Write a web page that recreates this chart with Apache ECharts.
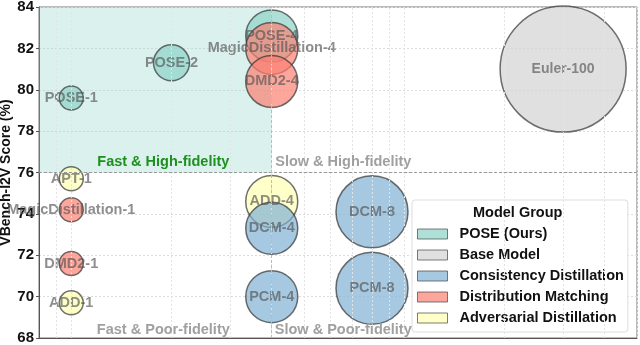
<!DOCTYPE html>
<html>
<head>
<meta charset="utf-8">
<script src="https://cdn.jsdelivr.net/npm/echarts@6/dist/echarts.min.js"></script>
<style>
  html, body { margin: 0; padding: 0; background: #fff; }
  #chart { width: 640px; height: 345px; }
</style>
</head>
<body>
<div id="chart"></div>
<script>
// each point: [x (log axis), VBench-I2V score, NFE, name]
var poseOurs = [[1, 79.6, 1, 'POSE-1'], [2, 81.3, 2, 'POSE-2'], [4, 82.6, 4, 'POSE-4']];
var baseModel = [[30, 81.0, 100, 'Euler-100']];
var consistencyDist = [[4, 73.3, 4, 'DCM-4'], [4, 70.0, 4, 'PCM-4'], [8, 74.1, 8, 'DCM-8'], [8, 70.4, 8, 'PCM-8']];
var distMatching = [[4, 82.0, 4, 'MagicDistillation-4'], [4, 80.4, 4, 'DMD2-4'], [1, 74.2, 1, 'MagicDistillation-1'], [1, 71.6, 1, 'DMD2-1']];
var adversarialDist = [[1, 75.7, 1, 'APT-1'], [4, 74.6, 4, 'ADD-4'], [1, 69.7, 1, 'ADD-1']];

var groupNames = ['POSE (Ours)', 'Base Model', 'Consistency Distillation', 'Distribution Matching', 'Adversarial Distillation'];
var yTicks = [68, 70, 72, 74, 76, 78, 80, 82, 84];
var xGrid = [0.9, 1, 2, 3, 4, 5, 6, 7, 8, 9, 10, 20, 30, 40, 50];
var quadrantLabels = ['Fast & High-fidelity', 'Slow & High-fidelity', 'Fast & Poor-fidelity', 'Slow & Poor-fidelity'];

var FONT = '"Liberation Sans", Arial, sans-serif';
// bubble diameter by NFE
var bubbleDiameter = {1: 24, 2: 36, 4: 52, 8: 72, 100: 126};

function bubbles(name, data, color, fontSize) {
  return {
    name: name,
    type: 'scatter',
    data: data,
    z: 2,
    symbolSize: function (d) { return bubbleDiameter[d[2]]; },
    itemStyle: { color: color, opacity: 0.7, borderColor: '#333', borderWidth: 1.5 },
    label: {
      show: true,
      position: 'inside',
      formatter: function (p) { return p.data[3]; },
      color: 'rgba(85,85,85,0.95)',
      fontFamily: FONT,
      fontWeight: 'bold',
      fontSize: fontSize || 14.5
    },
    emphasis: { disabled: true }
  };
}

var chart = echarts.init(document.getElementById('chart'));

var labelFont = { fontFamily: FONT, fontWeight: 'bold', fontSize: 14.5 };

var option = {
  animation: false,
  grid: { left: 39, right: 3, top: 7, bottom: 7, show: true, borderColor: '#777', borderWidth: 1,
    outerBoundsMode: 'none', containLabel: false },
  xAxis: {
    type: 'log',
    min: 0.8,
    max: 50,
    axisLabel: { show: false },
    axisTick: { show: false },
    splitLine: { show: false },
    axisLine: { lineStyle: { color: '#555' } }
  },
  yAxis: {
    type: 'value',
    min: 68,
    max: 84,
    interval: 2,
    name: 'VBench-I2V Score (%)',
    nameLocation: 'middle',
    nameGap: 26,
    nameMoveOverlap: false,
    nameTextStyle: { color: '#111', fontFamily: FONT, fontWeight: 'bold', fontSize: 14 },
    axisLabel: { color: '#111', fontFamily: FONT, fontWeight: 'bold', fontSize: 15, margin: 5,
      formatter: function (v) { return yTicks.indexOf(v) >= 0 ? v : ''; } },
    axisTick: { show: true, length: 3, lineStyle: { color: '#555' } },
    axisLine: { show: true, lineStyle: { color: '#555' } },
    splitLine: { lineStyle: { color: '#ddd', type: [2, 2] } }
  },
  legend: {
    data: groupNames,
    orient: 'vertical',
    left: 412,
    top: 200,
    padding: [26, 4, 6, 5],
    backgroundColor: '#fff',
    borderColor: '#ddd',
    borderWidth: 1,
    borderRadius: 3,
    icon: 'rect',
    itemWidth: 30,
    itemHeight: 10,
    itemGap: 5,
    itemStyle: { borderColor: '#444', borderWidth: 1 },
    textStyle: { color: '#111', fontFamily: FONT, fontWeight: 'bold', fontSize: 14.5, lineHeight: 16,
      padding: [0, 0, 0, 7] }
  },
  graphic: [{
    type: 'text', left: 473, top: 205, z: 100,
    style: { text: 'Model Group', fill: '#111', font: 'bold 14.5px ' + FONT }
  }],
  series: [
    {
      name: 'guides',
      type: 'scatter',
      data: [],
      z: 1,
      silent: true,
      markArea: {
        silent: true,
        itemStyle: { color: 'rgba(141,211,199,0.32)' },
        data: [[{ coord: [0.8, 76] }, { coord: [4, 84] }]]
      },
      markLine: {
        silent: true,
        symbol: 'none',
        label: { show: false },
        data: xGrid.map(function (v) {
          return { xAxis: v, lineStyle: { color: '#e3e3e3', type: [2, 2], width: 1 } };
        }).concat([
          { yAxis: 76, lineStyle: { color: '#999', type: [3, 2], width: 1 } },
          { xAxis: 4, lineStyle: { color: '#bbb', type: [3, 2], width: 1 } }
        ])
      },
      markPoint: {
        silent: true,
        symbol: 'circle',
        symbolSize: 0,
        label: Object.assign({ show: true, position: 'inside', color: '#a0a0a0' }, labelFont),
        data: [
          { coord: [1.89, 76.5], value: quadrantLabels[0], label: { formatter: quadrantLabels[0], color: '#1f8f1f' } },
          { coord: [6.56, 76.5], value: quadrantLabels[1], label: { formatter: quadrantLabels[1] } },
          { coord: [1.89, 68.4], value: quadrantLabels[2], label: { formatter: quadrantLabels[2] } },
          { coord: [6.56, 68.4], value: quadrantLabels[3], label: { formatter: quadrantLabels[3] } }
        ]
      }
    },
    bubbles(groupNames[4], adversarialDist, '#ffffb3'),
    bubbles(groupNames[0], poseOurs, '#8dd3c7'),
    bubbles(groupNames[1], baseModel, '#d3d3d3', 14),
    bubbles(groupNames[2], consistencyDist, '#80b1d3'),
    bubbles(groupNames[3], distMatching, '#fb8072')
  ]
};

chart.setOption(option);
</script>
</body>
</html>
